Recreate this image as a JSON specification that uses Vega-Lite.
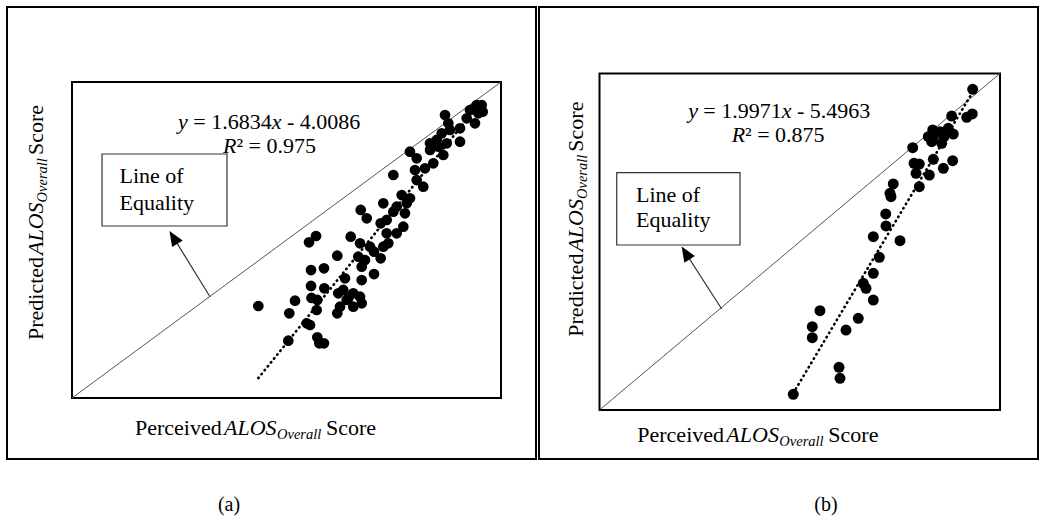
{
  "$schema": "https://vega.github.io/schema/vega-lite/v6.json",
  "background": "white",
  "padding": {"left": 6, "top": 6, "right": 0, "bottom": 0},
  "bounds": "flush",
  "spacing": 3,
  "config": {
    "view": {"stroke": "#000", "strokeWidth": 2},
    "text": {"font": "Liberation Serif", "fontSize": 22, "color": "#000"}
  },
  "hconcat": [
    {
      "width": 529,
      "height": 452,
      "encoding": {
        "x": {"field": "x", "type": "quantitative", "scale": {"domain": [-0.9091, 6.4895], "nice": false, "zero": false}, "axis": null},
        "y": {"field": "y", "type": "quantitative", "scale": {"domain": [-1.1582, 7.424], "nice": false, "zero": false}, "axis": null}
      },
      "layer": [
        {
          "data": {"values": [{"x": 0, "x2": 6, "y": 0, "y2": 6}]},
          "mark": {"type": "rect", "fill": "transparent", "stroke": "#000", "strokeWidth": 2},
          "encoding": {"x2": {"field": "x2"}, "y2": {"field": "y2"}}
        },
        {
          "data": {"values": [{"x": 0, "y": 0}, {"x": 6, "y": 6}]},
          "mark": {"type": "line", "color": "#555", "strokeWidth": 1}
        },
        {
          "data": {"values": [{"x": 2.606, "y": 0.378}, {"x": 5.744, "y": 5.661}]},
          "mark": {"type": "line", "color": "#000", "strokeWidth": 2.6, "strokeDash": [0.5, 4.5], "strokeCap": "round"}
        },
        {
          "data": {"values": [
            {"x": 2.606, "y": 1.747}, {"x": 3.039, "y": 1.608}, {"x": 3.119, "y": 1.847}, {"x": 3.025, "y": 1.088},
            {"x": 3.329, "y": 1.386}, {"x": 3.431, "y": 1.153}, {"x": 3.524, "y": 1.039}, {"x": 3.459, "y": 1.039},
            {"x": 3.343, "y": 2.127}, {"x": 3.343, "y": 2.43}, {"x": 3.524, "y": 2.463}, {"x": 3.529, "y": 2.083},
            {"x": 3.431, "y": 1.861}, {"x": 3.422, "y": 1.671}, {"x": 3.315, "y": 2.956}, {"x": 3.413, "y": 3.076},
            {"x": 3.71, "y": 2.702}, {"x": 3.898, "y": 3.063}, {"x": 4.028, "y": 2.937}, {"x": 3.818, "y": 2.273},
            {"x": 3.724, "y": 1.988}, {"x": 3.71, "y": 1.608}, {"x": 3.748, "y": 1.734}, {"x": 3.864, "y": 1.893},
            {"x": 3.934, "y": 1.988}, {"x": 4.028, "y": 1.923}, {"x": 4.052, "y": 2.24}, {"x": 4.052, "y": 2.493},
            {"x": 4.098, "y": 2.62}, {"x": 4.004, "y": 2.683}, {"x": 4.224, "y": 2.354}, {"x": 4.224, "y": 2.778},
            {"x": 4.317, "y": 2.653}, {"x": 4.424, "y": 2.937}, {"x": 4.317, "y": 3.317}, {"x": 4.038, "y": 3.57},
            {"x": 4.122, "y": 3.412}, {"x": 4.354, "y": 3.697}, {"x": 4.494, "y": 3.537}, {"x": 4.634, "y": 3.253},
            {"x": 4.541, "y": 3.127}, {"x": 4.401, "y": 3.127}, {"x": 4.494, "y": 4.234}, {"x": 4.611, "y": 3.854},
            {"x": 4.727, "y": 3.792}, {"x": 4.797, "y": 4.329}, {"x": 4.727, "y": 4.677}, {"x": 4.913, "y": 4.012},
            {"x": 4.937, "y": 4.361}, {"x": 5.007, "y": 4.709}, {"x": 5.053, "y": 4.456}, {"x": 5.193, "y": 4.614},
            {"x": 5.241, "y": 4.836}, {"x": 5.171, "y": 5.026}, {"x": 5.287, "y": 5.089}, {"x": 5.217, "y": 5.373},
            {"x": 5.427, "y": 5.121}, {"x": 5.427, "y": 4.866}, {"x": 5.52, "y": 5.311}, {"x": 5.636, "y": 5.216},
            {"x": 5.636, "y": 5.501}, {"x": 5.73, "y": 5.563}, {"x": 5.744, "y": 5.436}, {"x": 4.657, "y": 3.507},
            {"x": 4.681, "y": 3.697}, {"x": 4.821, "y": 4.139}, {"x": 5.007, "y": 4.836}, {"x": 5.123, "y": 4.772},
            {"x": 3.794, "y": 2.051}, {"x": 3.934, "y": 1.734}, {"x": 4.052, "y": 1.798}, {"x": 3.842, "y": 1.861},
            {"x": 4.168, "y": 2.873}, {"x": 4.354, "y": 2.873}, {"x": 4.541, "y": 3.632}, {"x": 4.401, "y": 3.38},
            {"x": 4.821, "y": 4.551}, {"x": 5.101, "y": 4.899}, {"x": 5.263, "y": 5.216}, {"x": 5.566, "y": 5.468},
            {"x": 5.683, "y": 5.406}, {"x": 5.66, "y": 5.563}, {"x": 3.283, "y": 1.418}, {"x": 3.35, "y": 1.9}
          ]},
          "mark": {"type": "circle", "size": 115, "color": "#000", "opacity": 1}
        },
        {
          "data": {"values": [{"x": 0.42, "x2": 2.168, "y": 3.266, "y2": 4.633}]},
          "mark": {"type": "rect", "fill": "#fff", "stroke": "#333", "strokeWidth": 1.2},
          "encoding": {"x2": {"field": "x2"}, "y2": {"field": "y2"}}
        },
        {
          "data": {"values": [
            {"x": 1.697, "y": 5.117, "t": "= 1.6834"},
            {"x": 3.007, "y": 5.117, "t": "- 4.0086"},
            {"x": 2.299, "y": 4.652, "t": "² = 0.975"},
            {"x": 0.664, "y": 4.082, "t": "Line of"},
            {"x": 0.664, "y": 3.579, "t": "Equality"},
            {"x": 0.881, "y": -0.7025, "t": "Perceived"},
            {"x": 3.552, "y": -0.7025, "t": "Score"}
          ]},
          "mark": {"type": "text", "align": "left", "baseline": "alphabetic", "font": "Liberation Serif", "fontSize": 22},
          "encoding": {"text": {"field": "t", "type": "nominal"}}
        },
        {
          "data": {"values": [
            {"x": 1.483, "y": 5.117, "t": "y"},
            {"x": 2.793, "y": 5.117, "t": "x"},
            {"x": 2.112, "y": 4.652, "t": "R"},
            {"x": 2.126, "y": -0.7025, "t": "ALOS"}
          ]},
          "mark": {"type": "text", "align": "left", "baseline": "alphabetic", "font": "Liberation Serif", "fontSize": 22, "fontStyle": "italic"},
          "encoding": {"text": {"field": "t", "type": "nominal"}}
        },
        {
          "data": {"values": [{"x": 2.867, "y": -0.769, "t": "Overall"}]},
          "mark": {"type": "text", "align": "left", "baseline": "alphabetic", "font": "Liberation Serif", "fontSize": 14.5, "fontStyle": "italic"},
          "encoding": {"text": {"field": "t", "type": "nominal"}}
        },
        {
          "data": {"values": [
            {"x": -0.4056, "y": 1.101, "t": "Predicted"},
            {"x": -0.4056, "y": 4.614, "t": "Score"}
          ]},
          "mark": {"type": "text", "align": "left", "baseline": "alphabetic", "angle": 270, "font": "Liberation Serif", "fontSize": 22},
          "encoding": {"text": {"field": "t", "type": "nominal"}}
        },
        {
          "data": {"values": [{"x": -0.4056, "y": 2.715, "t": "ALOS"}]},
          "mark": {"type": "text", "align": "left", "baseline": "alphabetic", "angle": 270, "font": "Liberation Serif", "fontSize": 22, "fontStyle": "italic"},
          "encoding": {"text": {"field": "t", "type": "nominal"}}
        },
        {
          "data": {"values": [{"x": -0.3566, "y": 3.714, "t": "Overall"}]},
          "mark": {"type": "text", "align": "left", "baseline": "alphabetic", "angle": 270, "font": "Liberation Serif", "fontSize": 14.5, "fontStyle": "italic"},
          "encoding": {"text": {"field": "t", "type": "nominal"}}
        },
        {
          "data": {"values": [{"x": 2.196, "y": -2.1456, "t": "(a)"}]},
          "mark": {"type": "text", "align": "center", "baseline": "alphabetic", "font": "Liberation Serif", "fontSize": 20},
          "encoding": {"text": {"field": "t", "type": "nominal"}}
        },
        {
          "data": {"values": [{"x": 1.93, "y": 1.923}, {"x": 1.425, "y": 3.036}]},
          "mark": {"type": "line", "color": "#333", "strokeWidth": 1.2}
        },
        {
          "data": {"values": [{"x": 1.425, "y": 3.036}]},
          "mark": {"type": "point", "shape": "M0,-1L0.75,0.8L-0.75,0.8Z", "size": 278, "angle": 328, "filled": true, "color": "#000", "opacity": 1}
        }
      ]
    },
    {
      "width": 499,
      "height": 452,
      "encoding": {
        "x": {"field": "x", "type": "quantitative", "scale": {"domain": [-0.9064, 6.5693], "nice": false, "zero": false}, "axis": null},
        "y": {"field": "y", "type": "quantitative", "scale": {"domain": [-0.8737, 7.1857], "nice": false, "zero": false}, "axis": null}
      },
      "layer": [
        {
          "data": {"values": [{"x": 0, "x2": 6, "y": 0, "y2": 6}]},
          "mark": {"type": "rect", "fill": "transparent", "stroke": "#000", "strokeWidth": 2},
          "encoding": {"x2": {"field": "x2"}, "y2": {"field": "y2"}}
        },
        {
          "data": {"values": [{"x": 0, "y": 0}, {"x": 6, "y": 6}]},
          "mark": {"type": "line", "color": "#555", "strokeWidth": 1}
        },
        {
          "data": {"values": [{"x": 2.903, "y": 0.301}, {"x": 5.591, "y": 5.67}]},
          "mark": {"type": "line", "color": "#000", "strokeWidth": 2.6, "strokeDash": [0.5, 4.5], "strokeCap": "round"}
        },
        {
          "data": {"values": [
            {"x": 2.903, "y": 0.28}, {"x": 3.588, "y": 0.761}, {"x": 3.603, "y": 0.565}, {"x": 3.188, "y": 1.485},
            {"x": 3.188, "y": 1.289}, {"x": 3.303, "y": 1.771}, {"x": 3.693, "y": 1.426}, {"x": 3.877, "y": 1.635},
            {"x": 4.102, "y": 1.961}, {"x": 3.993, "y": 2.17}, {"x": 3.952, "y": 2.259}, {"x": 4.102, "y": 2.437},
            {"x": 4.192, "y": 2.723}, {"x": 4.102, "y": 3.09}, {"x": 4.292, "y": 3.281}, {"x": 4.288, "y": 3.495},
            {"x": 4.502, "y": 3.019}, {"x": 4.367, "y": 3.803}, {"x": 4.352, "y": 3.864}, {"x": 4.401, "y": 4.03},
            {"x": 4.791, "y": 3.982}, {"x": 4.742, "y": 4.221}, {"x": 4.712, "y": 4.399}, {"x": 4.791, "y": 4.386},
            {"x": 4.941, "y": 4.19}, {"x": 5.151, "y": 4.31}, {"x": 5.291, "y": 4.445}, {"x": 5.001, "y": 4.47},
            {"x": 4.692, "y": 4.677}, {"x": 4.977, "y": 4.784}, {"x": 4.992, "y": 4.993}, {"x": 5.001, "y": 4.873},
            {"x": 5.127, "y": 4.755}, {"x": 5.161, "y": 4.873}, {"x": 5.225, "y": 5.023}, {"x": 5.3, "y": 4.921},
            {"x": 5.276, "y": 5.242}, {"x": 5.501, "y": 5.219}, {"x": 5.585, "y": 5.278}, {"x": 5.591, "y": 5.718},
            {"x": 4.926, "y": 4.873}, {"x": 5.101, "y": 4.962}
          ]},
          "mark": {"type": "circle", "size": 120, "color": "#000", "opacity": 1}
        },
        {
          "data": {"values": [{"x": 0.258, "x2": 2.105, "y": 2.942, "y2": 4.231}]},
          "mark": {"type": "rect", "fill": "#fff", "stroke": "#333", "strokeWidth": 1.2},
          "encoding": {"x2": {"field": "x2"}, "y2": {"field": "y2"}}
        },
        {
          "data": {"values": [
            {"x": 1.555, "y": 5.207, "t": "= 1.9971"},
            {"x": 2.959, "y": 5.207, "t": "- 5.4963"},
            {"x": 2.181, "y": 4.77, "t": "² = 0.875"},
            {"x": 0.547, "y": 3.709, "t": "Line of"},
            {"x": 0.547, "y": 3.263, "t": "Equality"},
            {"x": 0.566, "y": -0.5706, "t": "Perceived"},
            {"x": 3.428, "y": -0.5706, "t": "Score"}
          ]},
          "mark": {"type": "text", "align": "left", "baseline": "alphabetic", "font": "Liberation Serif", "fontSize": 22},
          "encoding": {"text": {"field": "t", "type": "nominal"}}
        },
        {
          "data": {"values": [
            {"x": 1.33, "y": 5.207, "t": "y"},
            {"x": 2.73, "y": 5.207, "t": "x"},
            {"x": 1.981, "y": 4.77, "t": "R"},
            {"x": 1.9, "y": -0.5706, "t": "ALOS"}
          ]},
          "mark": {"type": "text", "align": "left", "baseline": "alphabetic", "font": "Liberation Serif", "fontSize": 22, "fontStyle": "italic"},
          "encoding": {"text": {"field": "t", "type": "nominal"}}
        },
        {
          "data": {"values": [{"x": 2.694, "y": -0.633, "t": "Overall"}]},
          "mark": {"type": "text", "align": "left", "baseline": "alphabetic", "font": "Liberation Serif", "fontSize": 14.5, "fontStyle": "italic"},
          "encoding": {"text": {"field": "t", "type": "nominal"}}
        },
        {
          "data": {"values": [
            {"x": -0.2427, "y": 1.307, "t": "Predicted"},
            {"x": -0.2427, "y": 4.606, "t": "Score"}
          ]},
          "mark": {"type": "text", "align": "left", "baseline": "alphabetic", "angle": 270, "font": "Liberation Serif", "fontSize": 22},
          "encoding": {"text": {"field": "t", "type": "nominal"}}
        },
        {
          "data": {"values": [{"x": -0.2427, "y": 2.824, "t": "ALOS"}]},
          "mark": {"type": "text", "align": "left", "baseline": "alphabetic", "angle": 270, "font": "Liberation Serif", "fontSize": 22, "fontStyle": "italic"},
          "encoding": {"text": {"field": "t", "type": "nominal"}}
        },
        {
          "data": {"values": [{"x": -0.19, "y": 3.762, "t": "Overall"}]},
          "mark": {"type": "text", "align": "left", "baseline": "alphabetic", "angle": 270, "font": "Liberation Serif", "fontSize": 14.5, "fontStyle": "italic"},
          "encoding": {"text": {"field": "t", "type": "nominal"}}
        },
        {
          "data": {"values": [{"x": 3.393, "y": -1.801, "t": "(b)"}]},
          "mark": {"type": "text", "align": "center", "baseline": "alphabetic", "font": "Liberation Serif", "fontSize": 20},
          "encoding": {"text": {"field": "t", "type": "nominal"}}
        },
        {
          "data": {"values": [{"x": 1.831, "y": 1.8}, {"x": 1.297, "y": 2.787}]},
          "mark": {"type": "line", "color": "#333", "strokeWidth": 1.2}
        },
        {
          "data": {"values": [{"x": 1.297, "y": 2.787}]},
          "mark": {"type": "point", "shape": "M0,-1L0.75,0.8L-0.75,0.8Z", "size": 278, "angle": 328, "filled": true, "color": "#000", "opacity": 1}
        }
      ]
    }
  ]
}
